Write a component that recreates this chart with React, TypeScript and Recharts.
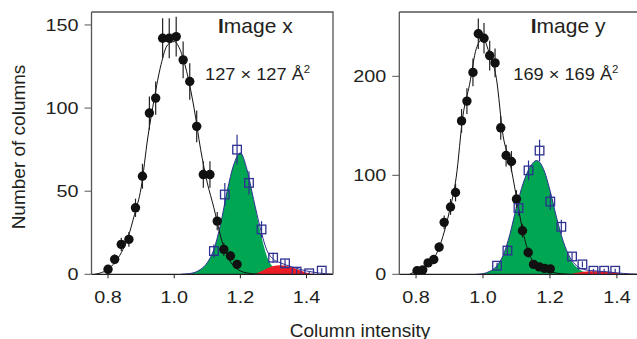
import {
  ComposedChart,
  Line,
  Area,
  Scatter,
  ErrorBar,
  XAxis,
  YAxis,
} from "recharts"

// ---- Image x (left panel) ----
const xDotX = [0.8, 0.82, 0.84, 0.863, 0.883, 0.904, 0.925, 0.944, 0.965, 0.985, 1.006, 1.027, 1.047, 1.068, 1.088, 1.108, 1.13, 1.15, 1.17, 1.19]
const xDotY = [3, 9, 18, 21, 40, 59, 97, 106, 142, 142, 143, 129, 116, 89, 60, 60, 32, 15, 11, 6]
const xDotErr = [1.5, 3, 4, 4.5, 5.5, 7.5, 10, 10, 12, 12, 12, 11, 11, 9.5, 8, 8, 5.5, 4, 3, 2]

const xSqX = [1.12, 1.153, 1.19, 1.226, 1.264, 1.299, 1.335, 1.37, 1.408, 1.446]
const xSqY = [14, 48, 75, 55, 27, 10, 6.6, 1.6, 0.6, 2.2]
const xSqErr = [4, 7, 9, 7, 5, 3, 2.5, 1.3, 0.8, 1.5]

const xFitX = [0.76, 0.78, 0.8, 0.82, 0.84, 0.86, 0.88, 0.9, 0.92, 0.94, 0.96, 0.98, 1.0, 1.02, 1.04, 1.06, 1.08, 1.1, 1.12, 1.14, 1.16, 1.18, 1.2, 1.22, 1.24, 1.26]
const xFitY = [0, 1, 3, 7, 13, 22, 36, 52, 82, 106, 126, 138, 140, 134, 120, 100, 75, 55, 40, 23, 11, 5, 2, 0.8, 0.3, 0]

const xGreenX = [1.02, 1.04, 1.06, 1.08, 1.1, 1.12, 1.14, 1.16, 1.18, 1.2, 1.22, 1.24, 1.26, 1.28, 1.3, 1.32, 1.34, 1.36]
const xGreenY = [0, 0.3, 1, 3, 7, 15, 30, 50, 66, 73, 63, 45, 26, 11, 4, 1.5, 0.4, 0]

const xRedX = [1.24, 1.26, 1.28, 1.3, 1.32, 1.34, 1.36, 1.38, 1.4, 1.42, 1.44]
const xRedY = [0, 1.5, 3.5, 5, 5.5, 5, 4, 2.5, 1, 0.3, 0]

const xSumX = [1.02, 1.04, 1.06, 1.08, 1.1, 1.12, 1.14, 1.16, 1.18, 1.2, 1.22, 1.24, 1.26, 1.28, 1.3, 1.32, 1.34, 1.36, 1.38, 1.4, 1.42, 1.44, 1.46, 1.48]
const xSumY = [0, 0.3, 1, 3, 7, 15, 30, 50, 66, 73, 63, 45, 28, 14.5, 9, 7, 5.5, 4.2, 3, 2, 1.3, 0.7, 0.3, 0.1]

// ---- Image y (right panel) ----
const yDotX = [0.803, 0.82, 0.836, 0.853, 0.869, 0.884, 0.903, 0.918, 0.936, 0.952, 0.97, 0.986, 1.003, 1.02, 1.036, 1.053, 1.069, 1.085, 1.1, 1.118, 1.135, 1.151, 1.168, 1.184, 1.201]
const yDotY = [3.6, 4.5, 11.5, 15, 27.5, 52.5, 68, 82.6, 155, 175, 204, 243, 238.5, 221, 213.6, 148, 120, 114, 76, 44, 22, 10, 7.5, 6, 5.5]
const yDotErr = [2, 2, 3.5, 4, 5, 7, 8, 9, 12, 13, 14, 15.5, 15.5, 15, 14.5, 12, 11, 10.5, 9, 7, 5, 3, 3, 2.5, 2.5]

const ySqX = [1.042, 1.073, 1.106, 1.136, 1.169, 1.201, 1.234, 1.266, 1.297, 1.33, 1.362, 1.395]
const ySqY = [8.7, 24, 67, 105, 125, 73.5, 48, 18, 10, 3.6, 3.6, 3.6]
const ySqErr = [3, 5, 8, 10, 11, 8.5, 7, 4, 3, 2, 2, 2]

const yFitX = [0.78, 0.8, 0.82, 0.84, 0.86, 0.88, 0.9, 0.92, 0.94, 0.96, 0.98, 1.0, 1.02, 1.04, 1.06, 1.08, 1.1, 1.12, 1.14, 1.16, 1.18, 1.2, 1.22, 1.24, 1.26]
const yFitY = [0, 3, 6, 12, 20, 38, 64, 98, 160, 192, 228, 238, 222, 198, 140, 114, 78, 42, 19, 9, 5, 3, 1.2, 0.4, 0]

const yGreenX = [0.98, 1.0, 1.02, 1.04, 1.06, 1.08, 1.1, 1.12, 1.14, 1.16, 1.18, 1.2, 1.22, 1.24, 1.26, 1.28, 1.3, 1.32, 1.34, 1.36]
const yGreenY = [0, 0.6, 3, 8, 19, 40, 68, 92, 108, 115, 107, 85, 57, 33, 16, 7, 2.5, 0.8, 0.2, 0]

const yRedX = [1.26, 1.28, 1.3, 1.32, 1.34, 1.36, 1.38, 1.4, 1.42, 1.44]
const yRedY = [0, 1.5, 2.6, 3.2, 3.2, 2.8, 2.2, 1.3, 0.5, 0]

const ySumX = [0.98, 1.0, 1.02, 1.04, 1.06, 1.08, 1.1, 1.12, 1.14, 1.16, 1.18, 1.2, 1.22, 1.24, 1.26, 1.28, 1.3, 1.32, 1.34, 1.36, 1.38, 1.4, 1.42, 1.44, 1.46]
const ySumY = [0, 0.6, 3, 8, 19, 40, 68, 92, 108, 115, 107, 85, 57, 33, 17, 8.5, 5, 3.8, 3.3, 2.8, 2.2, 1.5, 0.9, 0.4, 0.1]

const xTicks = [0.8, 1.0, 1.2, 1.4]
const leftYTicks = [0, 50, 100, 150]
const rightYTicks = [0, 100, 200]

const INK = "#231f20"
const FRAME = "#555"
const GREEN = "#00a651"
const RED = "#ed1c24"
const BLUE = "#2e3192"
const FONT = "'Liberation Sans', Arial, sans-serif"

const pts = (xs: number[], ys: number[], es?: number[]) =>
  xs.map((x, i) => ({ x, y: ys[i], e: es ? es[i] : 0 }))

const PLOT_TOP = 12
const PLOT_BOTTOM = 274.3
const CHART_H = 339
const XAXIS_H = 30
const YAXIS_W = 60

const XTick = (p: any) => (
  <g transform={`translate(${p.x},${p.y})`}>
    <text transform="scale(1.2,1)" textAnchor="middle" dy="0.71em" fontSize={16.5} fill={INK} fontFamily={FONT}>
      {Number(p.payload.value).toFixed(1)}
    </text>
  </g>
)

const YTick = (p: any) => (
  <g transform={`translate(${p.x},${p.y})`}>
    <text transform="scale(1.2,1)" textAnchor="end" dy="0.36em" fontSize={16.5} fill={INK} fontFamily={FONT}>
      {p.payload.value}
    </text>
  </g>
)

const Dot = (p: any) => <circle cx={p.cx} cy={p.cy} r={4.7} fill="#111" />
const Square = (p: any) => (
  <rect x={p.cx - 4.3} y={p.cy - 4.3} width={8.6} height={8.6} fill="none" stroke={BLUE} strokeWidth={1.3} />
)

type PanelProps = {
  left: number
  width: number
  plotLeft: number
  plotRight: number
  xDomain: [number, number]
  yDomain: [number, number]
  yTicks: number[]
  dots: { x: number; y: number; e: number }[]
  squares: { x: number; y: number; e: number }[]
  fit: { x: number; y: number }[]
  green: { x: number; y: number }[]
  red: { x: number; y: number }[]
  sum: { x: number; y: number }[]
}

function Panel(p: PanelProps) {
  return (
    <div style={{ position: "absolute", left: p.left, top: 0 }}>
      <ComposedChart
        width={p.width}
        height={CHART_H}
        margin={{
          top: PLOT_TOP,
          bottom: CHART_H - PLOT_BOTTOM - XAXIS_H,
          left: p.plotLeft - YAXIS_W,
          right: p.width - p.plotRight,
        }}
      >
        <XAxis
          dataKey="x"
          type="number"
          domain={p.xDomain}
          allowDataOverflow
          ticks={xTicks}
          interval={0}
          height={XAXIS_H}
          tickSize={4}
          tickMargin={13}
          tick={XTick}
          axisLine={{ stroke: INK, strokeWidth: 1.3 }}
          tickLine={{ stroke: INK }}
        />
        <YAxis
          type="number"
          domain={p.yDomain}
          allowDataOverflow
          ticks={p.yTicks}
          interval={0}
          width={YAXIS_W}
          tickSize={7}
          tickMargin={6}
          tick={YTick}
          axisLine={{ stroke: FRAME, strokeWidth: 1.3 }}
          tickLine={{ stroke: FRAME }}
        />
        <Area data={p.green} dataKey="y" type="monotone" fill={GREEN} fillOpacity={1} stroke="none" isAnimationActive={false} />
        <Area data={p.red} dataKey="y" type="monotone" fill={RED} fillOpacity={1} stroke="none" isAnimationActive={false} />
        <Line data={p.sum} dataKey="y" type="monotone" stroke={BLUE} strokeWidth={1} dot={false} isAnimationActive={false} />
        <Line data={p.fit} dataKey="y" type="monotone" stroke="#111" strokeWidth={1} dot={false} isAnimationActive={false} />
        <Scatter data={p.dots} dataKey="y" shape={Dot} isAnimationActive={false}>
          <ErrorBar dataKey="e" direction="y" width={0} stroke="#222" strokeWidth={1.2} />
        </Scatter>
        <Scatter data={p.squares} dataKey="y" shape={Square} isAnimationActive={false}>
          <ErrorBar dataKey="e" direction="y" width={0} stroke={BLUE} strokeWidth={1.2} />
        </Scatter>
      </ComposedChart>
    </div>
  )
}

const LEFT_PANEL = { left: 0, width: 340, plotLeft: 91.5, plotRight: 333 }
const RIGHT_PANEL = { left: 330, width: 312, plotLeft: 69.3, plotRight: 312 }

export default function App() {
  const textStyle = { fontFamily: FONT, fill: INK }
  return (
    <div style={{ position: "absolute", left: 0, top: 0, width: 637, height: 339, overflow: "hidden", background: "#fff" }}>
      <Panel
        {...LEFT_PANEL}
        xDomain={[0.75, 1.48]}
        yDomain={[0, 157.8]}
        yTicks={leftYTicks}
        dots={pts(xDotX, xDotY, xDotErr)}
        squares={pts(xSqX, xSqY, xSqErr)}
        fit={pts(xFitX, xFitY)}
        green={pts(xGreenX, xGreenY)}
        red={pts(xRedX, xRedY)}
        sum={pts(xSumX, xSumY)}
      />
      <Panel
        {...RIGHT_PANEL}
        xDomain={[0.75, 1.475]}
        yDomain={[0, 265]}
        yTicks={rightYTicks}
        dots={pts(yDotX, yDotY, yDotErr)}
        squares={pts(ySqX, ySqY, ySqErr)}
        fit={pts(yFitX, yFitY)}
        green={pts(yGreenX, yGreenY)}
        red={pts(yRedX, yRedY)}
        sum={pts(ySumX, ySumY)}
      />
      <svg width={637} height={339} style={{ position: "absolute", left: 0, top: 0, pointerEvents: "none" }}>
        {/* frame top / right edges */}
        <polyline
          points={`${LEFT_PANEL.plotLeft},${PLOT_TOP} ${LEFT_PANEL.plotRight},${PLOT_TOP} ${LEFT_PANEL.plotRight},${PLOT_BOTTOM}`}
          fill="none"
          stroke={FRAME}
          strokeWidth={1.3}
        />
        <line
          x1={RIGHT_PANEL.left + RIGHT_PANEL.plotLeft}
          y1={PLOT_TOP}
          x2={640}
          y2={PLOT_TOP}
          stroke={FRAME}
          strokeWidth={1.3}
        />
        <text transform="translate(218,33.3)" fontSize={21} {...textStyle}>
          <tspan fontWeight={700}>I</tspan>mage x
        </text>
        <text transform="translate(530.7,33.3)" fontSize={21} {...textStyle}>
          <tspan fontWeight={700}>I</tspan>mage y
        </text>
        <text transform="translate(205,80) scale(1.14,1)" fontSize={16} {...textStyle}>
          127 × 127 Å<tspan fontSize={10} dy={-7}>2</tspan>
        </text>
        <text transform="translate(513.3,80) scale(1.14,1)" fontSize={16} {...textStyle}>
          169 × 169 Å<tspan fontSize={10} dy={-7}>2</tspan>
        </text>
        <text transform="translate(25,147) rotate(-90)" textAnchor="middle" fontSize={19} {...textStyle}>
          Number of columns
        </text>
        <text x={360} y={336.5} textAnchor="middle" fontSize={19} {...textStyle}>
          Column intensity
        </text>
      </svg>
    </div>
  )
}
